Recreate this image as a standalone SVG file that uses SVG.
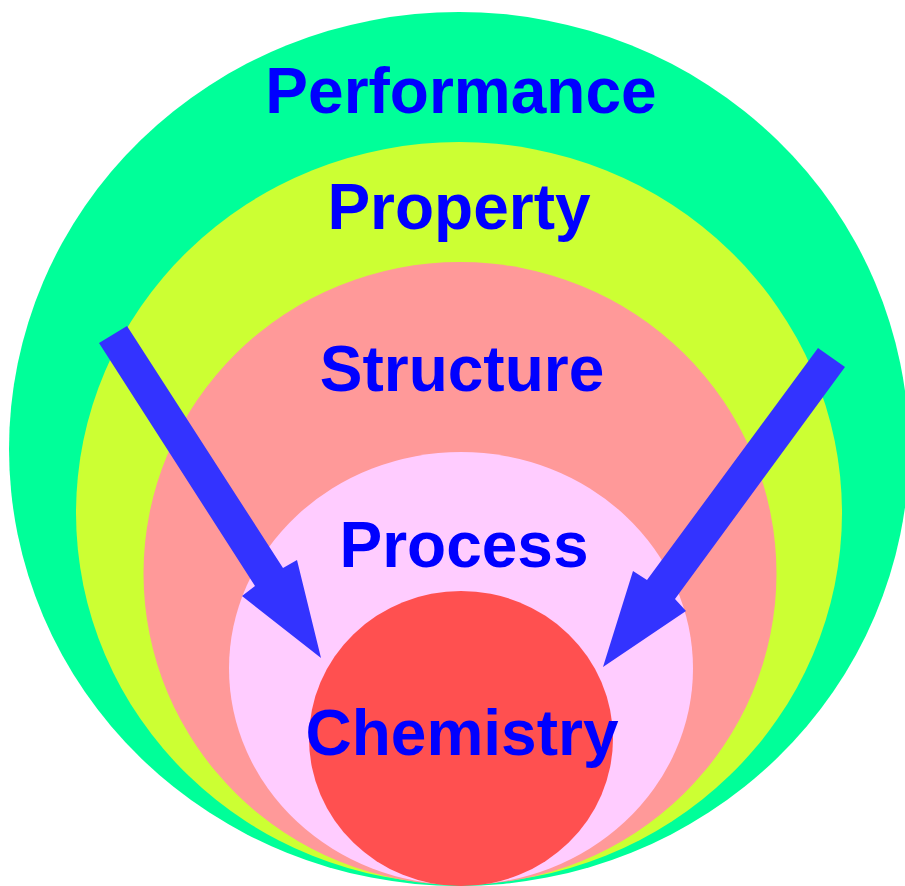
<svg xmlns="http://www.w3.org/2000/svg" width="905" height="886" viewBox="0 0 905 886">
<style>
.lbl{font-family:"Liberation Sans",Arial,sans-serif;font-weight:bold;font-size:64px;fill:#0000FF;text-anchor:middle}
.arrow{fill:#3333FF}
</style>
<rect width="905" height="886" fill="#FFFFFF"/>
<g id="performance">
<ellipse cx="459" cy="449" rx="450" ry="437" fill="#00FF99"/>
<text class="lbl" x="461" y="113">Performance</text>
</g>
<g id="property">
<ellipse cx="459" cy="513" rx="383" ry="371" fill="#CCFF33"/>
<text class="lbl" x="459" y="229">Property</text>
</g>
<g id="structure">
<ellipse cx="460" cy="573.5" rx="316.5" ry="311.5" fill="#FF9999"/>
<text class="lbl" x="462" y="391">Structure</text>
</g>
<g id="process">
<ellipse cx="461" cy="668.5" rx="232" ry="216.5" fill="#FFCCFF"/>
<text class="lbl" x="464" y="567">Process</text>
</g>
<g id="chemistry">
<ellipse cx="461" cy="738.5" rx="152" ry="147.5" fill="#FF5050"/>
<text class="lbl" x="462" y="755">Chemistry</text>
</g>
<g id="connectors">
<polygon class="arrow" points="99,343 127,326 283,568 297,560 321,658 242,596 255,586"/>
<polygon class="arrow" points="818,348 845,367 675,599 686,611 603,667 633,571 647,580"/>
</g>
</svg>
